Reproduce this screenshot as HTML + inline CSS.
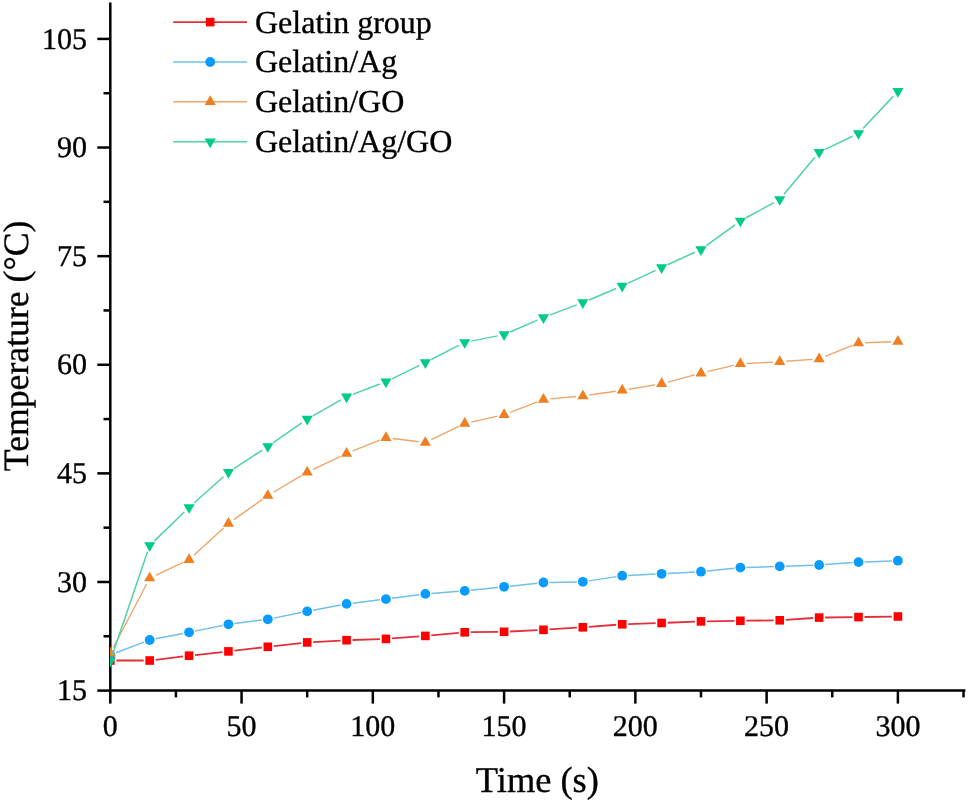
<!DOCTYPE html>
<html><head><meta charset="utf-8"><style>html,body{margin:0;padding:0;background:#fff;width:968px;height:803px;overflow:hidden}svg{display:block;will-change:transform}text{text-rendering:geometricPrecision}</style></head>
<body><svg width="968" height="803" viewBox="0 0 968 803">
<rect width="968" height="803" fill="#fff"/>
<defs><clipPath id="pc"><rect x="110" y="0" width="858" height="690.6"/></clipPath></defs>
<line x1="110.3" y1="2.6" x2="110.3" y2="691.85" stroke="#000" stroke-width="2.5"/><line x1="109.05" y1="690.6" x2="965.4" y2="690.6" stroke="#000" stroke-width="2.5"/><line x1="97.3" y1="690.60" x2="110.3" y2="690.60" stroke="#000" stroke-width="2.5"/><line x1="97.3" y1="581.99" x2="110.3" y2="581.99" stroke="#000" stroke-width="2.5"/><line x1="97.3" y1="473.37" x2="110.3" y2="473.37" stroke="#000" stroke-width="2.5"/><line x1="97.3" y1="364.76" x2="110.3" y2="364.76" stroke="#000" stroke-width="2.5"/><line x1="97.3" y1="256.14" x2="110.3" y2="256.14" stroke="#000" stroke-width="2.5"/><line x1="97.3" y1="147.53" x2="110.3" y2="147.53" stroke="#000" stroke-width="2.5"/><line x1="97.3" y1="38.91" x2="110.3" y2="38.91" stroke="#000" stroke-width="2.5"/><line x1="103.5" y1="636.29" x2="110.3" y2="636.29" stroke="#000" stroke-width="2.5"/><line x1="103.5" y1="527.68" x2="110.3" y2="527.68" stroke="#000" stroke-width="2.5"/><line x1="103.5" y1="419.06" x2="110.3" y2="419.06" stroke="#000" stroke-width="2.5"/><line x1="103.5" y1="310.45" x2="110.3" y2="310.45" stroke="#000" stroke-width="2.5"/><line x1="103.5" y1="201.83" x2="110.3" y2="201.83" stroke="#000" stroke-width="2.5"/><line x1="103.5" y1="93.22" x2="110.3" y2="93.22" stroke="#000" stroke-width="2.5"/><line x1="110.30" y1="690.6" x2="110.30" y2="703.6" stroke="#000" stroke-width="2.5"/><line x1="241.56" y1="690.6" x2="241.56" y2="703.6" stroke="#000" stroke-width="2.5"/><line x1="372.83" y1="690.6" x2="372.83" y2="703.6" stroke="#000" stroke-width="2.5"/><line x1="504.10" y1="690.6" x2="504.10" y2="703.6" stroke="#000" stroke-width="2.5"/><line x1="635.36" y1="690.6" x2="635.36" y2="703.6" stroke="#000" stroke-width="2.5"/><line x1="766.62" y1="690.6" x2="766.62" y2="703.6" stroke="#000" stroke-width="2.5"/><line x1="897.89" y1="690.6" x2="897.89" y2="703.6" stroke="#000" stroke-width="2.5"/><line x1="175.93" y1="690.6" x2="175.93" y2="697.4" stroke="#000" stroke-width="2.5"/><line x1="307.20" y1="690.6" x2="307.20" y2="697.4" stroke="#000" stroke-width="2.5"/><line x1="438.46" y1="690.6" x2="438.46" y2="697.4" stroke="#000" stroke-width="2.5"/><line x1="569.73" y1="690.6" x2="569.73" y2="697.4" stroke="#000" stroke-width="2.5"/><line x1="700.99" y1="690.6" x2="700.99" y2="697.4" stroke="#000" stroke-width="2.5"/><line x1="832.26" y1="690.6" x2="832.26" y2="697.4" stroke="#000" stroke-width="2.5"/><line x1="963.52" y1="690.6" x2="963.52" y2="697.4" stroke="#000" stroke-width="2.5"/>
<g clip-path="url(#pc)"><path d="M116.30,660.50L143.68,660.50M155.64,659.77L183.10,656.43M195.02,655.05L222.47,652.05M234.40,650.70L261.86,647.50M273.78,646.13L301.23,643.07M313.19,642.07L340.59,640.53M352.57,640.00L379.96,639.10M391.94,638.44L419.35,636.36M431.31,635.35L458.74,632.85M470.72,632.22L498.10,631.88M510.09,631.50L537.48,630.10M549.46,629.42L576.87,627.68M588.84,626.84L616.25,624.76M628.23,624.10L655.62,623.20M667.61,622.76L695.00,621.64M706.99,621.31L734.37,620.89M746.37,620.72L773.75,620.38M785.74,619.89L813.15,618.01M825.13,617.52L852.51,617.18M864.51,617.01L891.89,616.59" stroke="#E2303A" stroke-width="1.8" fill="none"/><rect x="106.00" y="656.20" width="8.6" height="8.6" fill="#FF0000"/><rect x="145.38" y="656.20" width="8.6" height="8.6" fill="#FF0000"/><rect x="184.76" y="651.40" width="8.6" height="8.6" fill="#FF0000"/><rect x="224.14" y="647.10" width="8.6" height="8.6" fill="#FF0000"/><rect x="263.52" y="642.50" width="8.6" height="8.6" fill="#FF0000"/><rect x="302.90" y="638.10" width="8.6" height="8.6" fill="#FF0000"/><rect x="342.28" y="635.90" width="8.6" height="8.6" fill="#FF0000"/><rect x="381.66" y="634.60" width="8.6" height="8.6" fill="#FF0000"/><rect x="421.04" y="631.60" width="8.6" height="8.6" fill="#FF0000"/><rect x="460.42" y="628.00" width="8.6" height="8.6" fill="#FF0000"/><rect x="499.80" y="627.50" width="8.6" height="8.6" fill="#FF0000"/><rect x="539.17" y="625.50" width="8.6" height="8.6" fill="#FF0000"/><rect x="578.55" y="623.00" width="8.6" height="8.6" fill="#FF0000"/><rect x="617.93" y="620.00" width="8.6" height="8.6" fill="#FF0000"/><rect x="657.31" y="618.70" width="8.6" height="8.6" fill="#FF0000"/><rect x="696.69" y="617.10" width="8.6" height="8.6" fill="#FF0000"/><rect x="736.07" y="616.50" width="8.6" height="8.6" fill="#FF0000"/><rect x="775.45" y="616.00" width="8.6" height="8.6" fill="#FF0000"/><rect x="814.83" y="613.30" width="8.6" height="8.6" fill="#FF0000"/><rect x="854.21" y="612.80" width="8.6" height="8.6" fill="#FF0000"/><rect x="893.59" y="612.20" width="8.6" height="8.6" fill="#FF0000"/><path d="M115.92,652.69L144.06,642.11M155.57,638.85L183.17,633.45M194.94,631.11L222.56,625.49M234.39,623.54L261.87,620.06M273.70,618.12L301.31,612.58M313.09,610.28L340.68,605.02M352.53,603.17L380.00,599.83M391.90,598.31L419.39,594.69M431.32,593.44L458.73,591.36M470.68,590.28L498.13,587.42M510.06,586.15L537.51,583.15M549.47,582.39L576.85,581.91M588.78,580.88L616.30,576.62M628.23,575.41L655.62,574.09M667.60,573.48L695.00,572.02M706.96,571.08L734.40,568.22M746.37,567.42L773.75,566.58M785.75,566.19L813.13,565.21M825.11,564.56L852.53,562.54M864.51,561.89L891.89,560.91" stroke="#72BFE8" stroke-width="1.5" fill="none"/><circle cx="110.30" cy="654.80" r="4.9" fill="#0A9BFF"/><circle cx="149.68" cy="640.00" r="4.9" fill="#0A9BFF"/><circle cx="189.06" cy="632.30" r="4.9" fill="#0A9BFF"/><circle cx="228.44" cy="624.30" r="4.9" fill="#0A9BFF"/><circle cx="267.82" cy="619.30" r="4.9" fill="#0A9BFF"/><circle cx="307.20" cy="611.40" r="4.9" fill="#0A9BFF"/><circle cx="346.58" cy="603.90" r="4.9" fill="#0A9BFF"/><circle cx="385.96" cy="599.10" r="4.9" fill="#0A9BFF"/><circle cx="425.34" cy="593.90" r="4.9" fill="#0A9BFF"/><circle cx="464.72" cy="590.90" r="4.9" fill="#0A9BFF"/><circle cx="504.10" cy="586.80" r="4.9" fill="#0A9BFF"/><circle cx="543.47" cy="582.50" r="4.9" fill="#0A9BFF"/><circle cx="582.85" cy="581.80" r="4.9" fill="#0A9BFF"/><circle cx="622.23" cy="575.70" r="4.9" fill="#0A9BFF"/><circle cx="661.61" cy="573.80" r="4.9" fill="#0A9BFF"/><circle cx="700.99" cy="571.70" r="4.9" fill="#0A9BFF"/><circle cx="740.37" cy="567.60" r="4.9" fill="#0A9BFF"/><circle cx="779.75" cy="566.40" r="4.9" fill="#0A9BFF"/><circle cx="819.13" cy="565.00" r="4.9" fill="#0A9BFF"/><circle cx="858.51" cy="562.10" r="4.9" fill="#0A9BFF"/><circle cx="897.89" cy="560.70" r="4.9" fill="#0A9BFF"/><path d="M113.36,647.45L146.62,583.95M155.66,575.31L183.08,562.49M193.92,555.23L223.58,527.97M233.82,519.68L262.43,499.42M273.50,492.24L301.52,475.66M313.15,469.44L340.63,456.26M352.71,450.96L379.83,440.14M392.51,438.51L418.79,441.79M431.27,439.72L458.78,426.38M471.16,422.06L497.65,416.14M510.25,412.32L537.32,401.88M550.05,398.90L576.28,396.50M589.39,394.97L615.70,391.23M628.75,389.23L655.10,384.87M667.99,382.08L694.62,374.92M707.41,371.67L733.95,365.33M746.96,363.47L773.16,362.13M786.33,361.32L812.55,359.38M825.25,356.43L852.39,345.47M865.11,342.75L891.29,341.75" stroke="#EDA66C" stroke-width="1.4" fill="none"/><path d="M110.30,646.83L115.90,656.53L104.70,656.53Z" fill="#F07F22"/><path d="M149.68,571.63L155.28,581.33L144.08,581.33Z" fill="#F07F22"/><path d="M189.06,553.23L194.66,562.93L183.46,562.93Z" fill="#F07F22"/><path d="M228.44,517.03L234.04,526.73L222.84,526.73Z" fill="#F07F22"/><path d="M267.82,489.13L273.42,498.83L262.22,498.83Z" fill="#F07F22"/><path d="M307.20,465.83L312.80,475.53L301.60,475.53Z" fill="#F07F22"/><path d="M346.58,446.93L352.18,456.63L340.98,456.63Z" fill="#F07F22"/><path d="M385.96,431.23L391.56,440.93L380.36,440.93Z" fill="#F07F22"/><path d="M425.34,436.13L430.94,445.83L419.74,445.83Z" fill="#F07F22"/><path d="M464.72,417.03L470.32,426.73L459.12,426.73Z" fill="#F07F22"/><path d="M504.10,408.23L509.70,417.93L498.50,417.93Z" fill="#F07F22"/><path d="M543.47,393.03L549.07,402.73L537.87,402.73Z" fill="#F07F22"/><path d="M582.85,389.43L588.45,399.13L577.25,399.13Z" fill="#F07F22"/><path d="M622.23,383.83L627.83,393.53L616.63,393.53Z" fill="#F07F22"/><path d="M661.61,377.33L667.21,387.03L656.01,387.03Z" fill="#F07F22"/><path d="M700.99,366.73L706.59,376.43L695.39,376.43Z" fill="#F07F22"/><path d="M740.37,357.33L745.97,367.03L734.77,367.03Z" fill="#F07F22"/><path d="M779.75,355.33L785.35,365.03L774.15,365.03Z" fill="#F07F22"/><path d="M819.13,352.43L824.73,362.13L813.53,362.13Z" fill="#F07F22"/><path d="M858.51,336.53L864.11,346.23L852.91,346.23Z" fill="#F07F22"/><path d="M897.89,335.03L903.49,344.73L892.29,344.73Z" fill="#F07F22"/><path d="M112.43,654.75L147.55,551.75M154.42,540.91L184.32,511.99M193.99,503.01L223.51,476.69M233.95,468.67L262.30,450.03M273.24,442.64L301.77,422.86M312.93,415.84L340.84,399.96M352.74,394.35L379.79,384.05M391.89,378.81L419.40,365.39M431.21,359.50L458.84,345.40M471.19,341.12L497.62,335.88M510.15,331.97L537.42,320.13M549.64,315.15L576.69,304.85M588.94,299.95L616.15,288.55M628.21,283.19L655.64,270.31M667.62,264.76L694.99,252.24M706.33,245.62L735.03,224.78M746.16,217.74L773.96,202.56M783.98,194.33L814.90,157.27M825.09,149.36L852.55,136.24M863.02,128.58L893.38,96.12" stroke="#4ED4A0" stroke-width="1.5" fill="none"/><path d="M110.30,667.47L115.90,657.77L104.70,657.77Z" fill="#00CC84"/><path d="M149.68,551.97L155.28,542.27L144.08,542.27Z" fill="#00CC84"/><path d="M189.06,513.87L194.66,504.17L183.46,504.17Z" fill="#00CC84"/><path d="M228.44,478.77L234.04,469.07L222.84,469.07Z" fill="#00CC84"/><path d="M267.82,452.87L273.42,443.17L262.22,443.17Z" fill="#00CC84"/><path d="M307.20,425.57L312.80,415.87L301.60,415.87Z" fill="#00CC84"/><path d="M346.58,403.17L352.18,393.47L340.98,393.47Z" fill="#00CC84"/><path d="M385.96,388.17L391.56,378.47L380.36,378.47Z" fill="#00CC84"/><path d="M425.34,368.97L430.94,359.27L419.74,359.27Z" fill="#00CC84"/><path d="M464.72,348.87L470.32,339.17L459.12,339.17Z" fill="#00CC84"/><path d="M504.10,341.07L509.70,331.37L498.50,331.37Z" fill="#00CC84"/><path d="M543.47,323.97L549.07,314.27L537.87,314.27Z" fill="#00CC84"/><path d="M582.85,308.97L588.45,299.27L577.25,299.27Z" fill="#00CC84"/><path d="M622.23,292.47L627.83,282.77L616.63,282.77Z" fill="#00CC84"/><path d="M661.61,273.97L667.21,264.27L656.01,264.27Z" fill="#00CC84"/><path d="M700.99,255.97L706.59,246.27L695.39,246.27Z" fill="#00CC84"/><path d="M740.37,227.37L745.97,217.67L734.77,217.67Z" fill="#00CC84"/><path d="M779.75,205.87L785.35,196.17L774.15,196.17Z" fill="#00CC84"/><path d="M819.13,158.67L824.73,148.97L813.53,148.97Z" fill="#00CC84"/><path d="M858.51,139.87L864.11,130.17L852.91,130.17Z" fill="#00CC84"/><path d="M897.89,97.77L903.49,88.07L892.29,88.07Z" fill="#00CC84"/></g>
<text x="87" y="700.20" text-anchor="end" font-size="30" font-family="Liberation Serif" stroke="#000" stroke-width="0.35">15</text><text x="87" y="591.59" text-anchor="end" font-size="30" font-family="Liberation Serif" stroke="#000" stroke-width="0.35">30</text><text x="87" y="482.97" text-anchor="end" font-size="30" font-family="Liberation Serif" stroke="#000" stroke-width="0.35">45</text><text x="87" y="374.36" text-anchor="end" font-size="30" font-family="Liberation Serif" stroke="#000" stroke-width="0.35">60</text><text x="87" y="265.74" text-anchor="end" font-size="30" font-family="Liberation Serif" stroke="#000" stroke-width="0.35">75</text><text x="87" y="157.13" text-anchor="end" font-size="30" font-family="Liberation Serif" stroke="#000" stroke-width="0.35">90</text><text x="87" y="48.51" text-anchor="end" font-size="30" font-family="Liberation Serif" stroke="#000" stroke-width="0.35">105</text><text x="110.30" y="736" text-anchor="middle" font-size="30" font-family="Liberation Serif" stroke="#000" stroke-width="0.35">0</text><text x="241.56" y="736" text-anchor="middle" font-size="30" font-family="Liberation Serif" stroke="#000" stroke-width="0.35">50</text><text x="372.83" y="736" text-anchor="middle" font-size="30" font-family="Liberation Serif" stroke="#000" stroke-width="0.35">100</text><text x="504.10" y="736" text-anchor="middle" font-size="30" font-family="Liberation Serif" stroke="#000" stroke-width="0.35">150</text><text x="635.36" y="736" text-anchor="middle" font-size="30" font-family="Liberation Serif" stroke="#000" stroke-width="0.35">200</text><text x="766.62" y="736" text-anchor="middle" font-size="30" font-family="Liberation Serif" stroke="#000" stroke-width="0.35">250</text><text x="897.89" y="736" text-anchor="middle" font-size="30" font-family="Liberation Serif" stroke="#000" stroke-width="0.35">300</text><text x="537.35" y="792" text-anchor="middle" font-size="36.4" font-family="Liberation Serif" stroke="#000" stroke-width="0.35">Time (s)</text><text transform="translate(27.6,345.9) rotate(-90)" text-anchor="middle" font-size="35.7" font-family="Liberation Serif" stroke="#000" stroke-width="0.35">Temperature (°C)</text>
<line x1="173.2" y1="22.1" x2="247.1" y2="22.1" stroke="#E2303A" stroke-width="1.8"/><rect x="205.90" y="17.80" width="8.6" height="8.6" fill="#FF0000"/><text x="255" y="32.50" font-size="32" font-family="Liberation Serif" stroke="#000" stroke-width="0.35">Gelatin group</text><line x1="173.2" y1="62.0" x2="247.1" y2="62.0" stroke="#72BFE8" stroke-width="1.5"/><circle cx="210.20" cy="62.00" r="4.9" fill="#0A9BFF"/><text x="255" y="72.40" font-size="32" font-family="Liberation Serif" stroke="#000" stroke-width="0.35">Gelatin/Ag</text><line x1="173.2" y1="101.8" x2="247.1" y2="101.8" stroke="#EDA66C" stroke-width="1.4"/><path d="M210.20,95.33L215.80,105.03L204.60,105.03Z" fill="#F07F22"/><text x="255" y="112.20" font-size="32" font-family="Liberation Serif" stroke="#000" stroke-width="0.35">Gelatin/GO</text><line x1="173.2" y1="141.8" x2="247.1" y2="141.8" stroke="#4ED4A0" stroke-width="1.5"/><path d="M210.20,148.27L215.80,138.57L204.60,138.57Z" fill="#00CC84"/><text x="255" y="152.20" font-size="32" font-family="Liberation Serif" stroke="#000" stroke-width="0.35">Gelatin/Ag/GO</text>
</svg></body></html>
